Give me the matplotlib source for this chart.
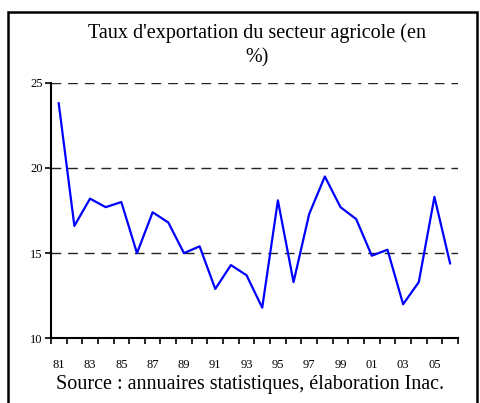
import matplotlib
matplotlib.use("Agg")
import matplotlib.pyplot as plt
import numpy as np
from matplotlib.patches import Rectangle

plt.rcParams["font.family"] = ["Liberation Serif", "DejaVu Serif"]

years = ["81", "82", "83", "84", "85", "86", "87", "88", "89", "90", "91", "92", "93",
         "94", "95", "96", "97", "98", "99", "00", "01", "02", "03", "04", "05", "06"]
taux = [23.8, 16.6, 18.2, 17.7, 18.0, 15.0, 17.4, 16.8, 15.0, 15.4, 12.9, 14.3, 13.7,
        11.8, 18.1, 13.3, 17.3, 19.5, 17.7, 17.0, 14.85, 15.2, 12.0, 13.3, 18.3, 14.4]


def draw():
    fig = plt.figure(figsize=(4.8, 4.03), dpi=100)
    ax = fig.add_axes([0.106, 0.1605, 0.848, 0.634])

    x = np.arange(len(taux))
    ax.plot(x, taux, color="#0000FF", lw=1.6)

    ax.set_xlim(-0.5, len(taux) - 0.5)
    ax.set_ylim(10, 25)
    ax.set_yticks([10, 15, 20, 25])
    ax.set_yticklabels(["10", "15", "20", "25"], fontsize=9)
    # ticks between categories, labels on odd years
    ax.set_xticks(np.arange(len(taux) + 1) - 0.5)
    ax.set_xticklabels([])
    ax.set_xticks(x[::2], minor=True)
    ax.set_xticklabels(years[::2], minor=True, fontsize=9)
    ax.tick_params(axis="x", which="major", direction="out", length=4, width=1.2)
    ax.tick_params(axis="x", which="minor", length=0, pad=15)
    ax.tick_params(axis="y", direction="out", length=4, width=1.2, pad=2)

    for v in [15, 20, 25]:
        ax.axhline(v, color="#222222", lw=1.0, ls=(0, (7, 5)), zorder=0)

    for s in ["top", "right"]:
        ax.spines[s].set_visible(False)
    ax.spines["left"].set_linewidth(1.5)
    ax.spines["bottom"].set_linewidth(1.5)

    fig.text(0.535, 0.917, "Taux d'exportation du secteur agricole (en",
             ha="center", va="center", fontsize=14.5)
    fig.text(0.535, 0.857, "%)", ha="center", va="center", fontsize=14.5)
    fig.text(0.52, 0.046, "Source : annuaires statistiques, élaboration Inac.",
             ha="center", va="center", fontsize=14.5)

    fig.patches.append(Rectangle((0.017, -0.02), 0.977, 0.99, transform=fig.transFigure,
                                 fill=False, edgecolor="black", lw=1.8))

    plt.savefig("out.png", dpi=100)


if __name__ == '__main__':
    draw()
